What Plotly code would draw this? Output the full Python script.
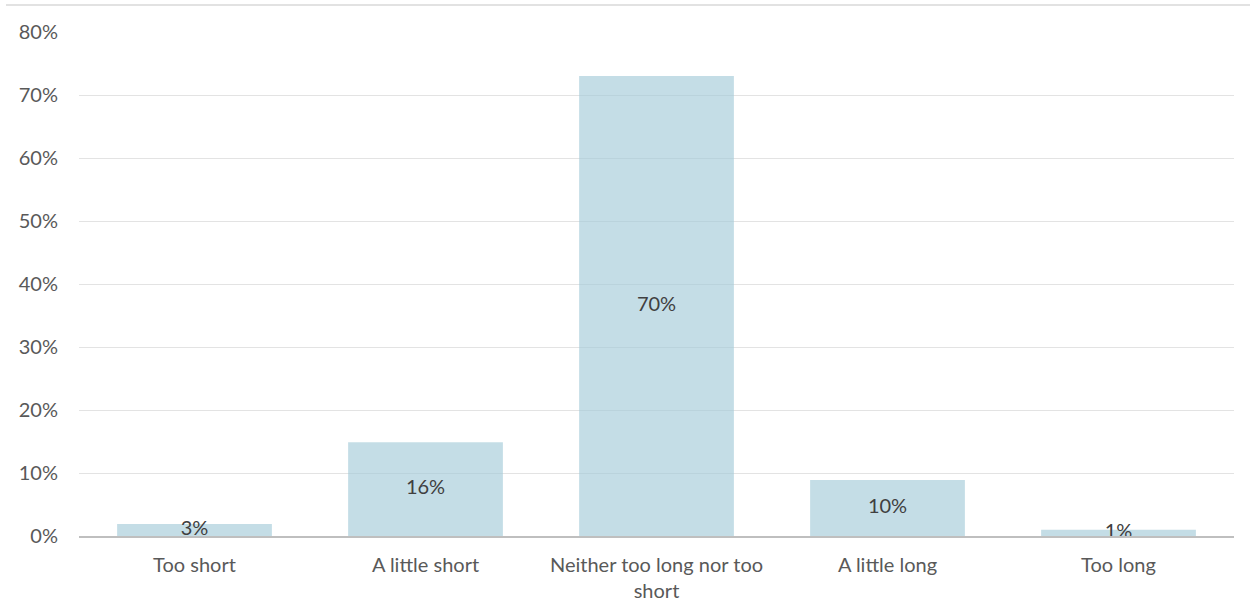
import plotly.graph_objects as go

categories = ["Too short", "A little short", "Neither too long nor too<br>short", "A little long", "Too long"]
bar_values = [1.9, 14.9, 73.0, 8.9, 1.0]
label_text = ["3%", "16%", "70%", "10%", "1%"]
y_ticks = [0, 10, 20, 30, 40, 50, 60, 70, 80]
y_tick_labels = ["0%", "10%", "20%", "30%", "40%", "50%", "60%", "70%", "80%"]

FONT = "Lato"
FS = 20

fig = go.Figure()
fig.add_trace(go.Bar(
    x=categories, y=bar_values,
    marker=dict(color="rgba(164,203,217,0.65)", line=dict(width=0)),
    hoverinfo="skip",
))
fig.add_trace(go.Scatter(
    x=categories, y=[v / 2 for v in bar_values],
    mode="text", text=label_text,
    textfont=dict(family=FONT, size=FS, color="#404040"),
    textposition="middle center", hoverinfo="skip",
))

fig.update_layout(
    width=1251, height=604,
    margin=dict(l=79, r=17, t=32, b=68),
    paper_bgcolor="white", plot_bgcolor="white",
    showlegend=False, bargap=0.33,
    font=dict(family=FONT, size=FS, color="#595959"),
    shapes=[dict(type="line", xref="paper", yref="paper",
                 x0=-73/1155, x1=(1250-79)/1155,
                 y0=(604-5-68)/504, y1=(604-5-68)/504,
                 line=dict(color="#d9d9d9", width=1.5))],
)
fig.update_xaxes(
    showgrid=False, showline=True, linecolor="#bfbfbf", linewidth=1.5,
    ticks="", ticklabelstandoff=10, automargin=False,
    tickfont=dict(family=FONT, size=FS, color="#595959"),
)
fig.update_yaxes(
    range=[0, 80], tickvals=y_ticks, ticktext=y_tick_labels,
    showgrid=True, gridcolor="#e3e3e3", gridwidth=1.2,
    zeroline=False, showline=False, ticks="", automargin=False,
    ticklabelstandoff=20,
    tickfont=dict(family=FONT, size=FS, color="#595959"),
)

fig.write_html("out.html")
